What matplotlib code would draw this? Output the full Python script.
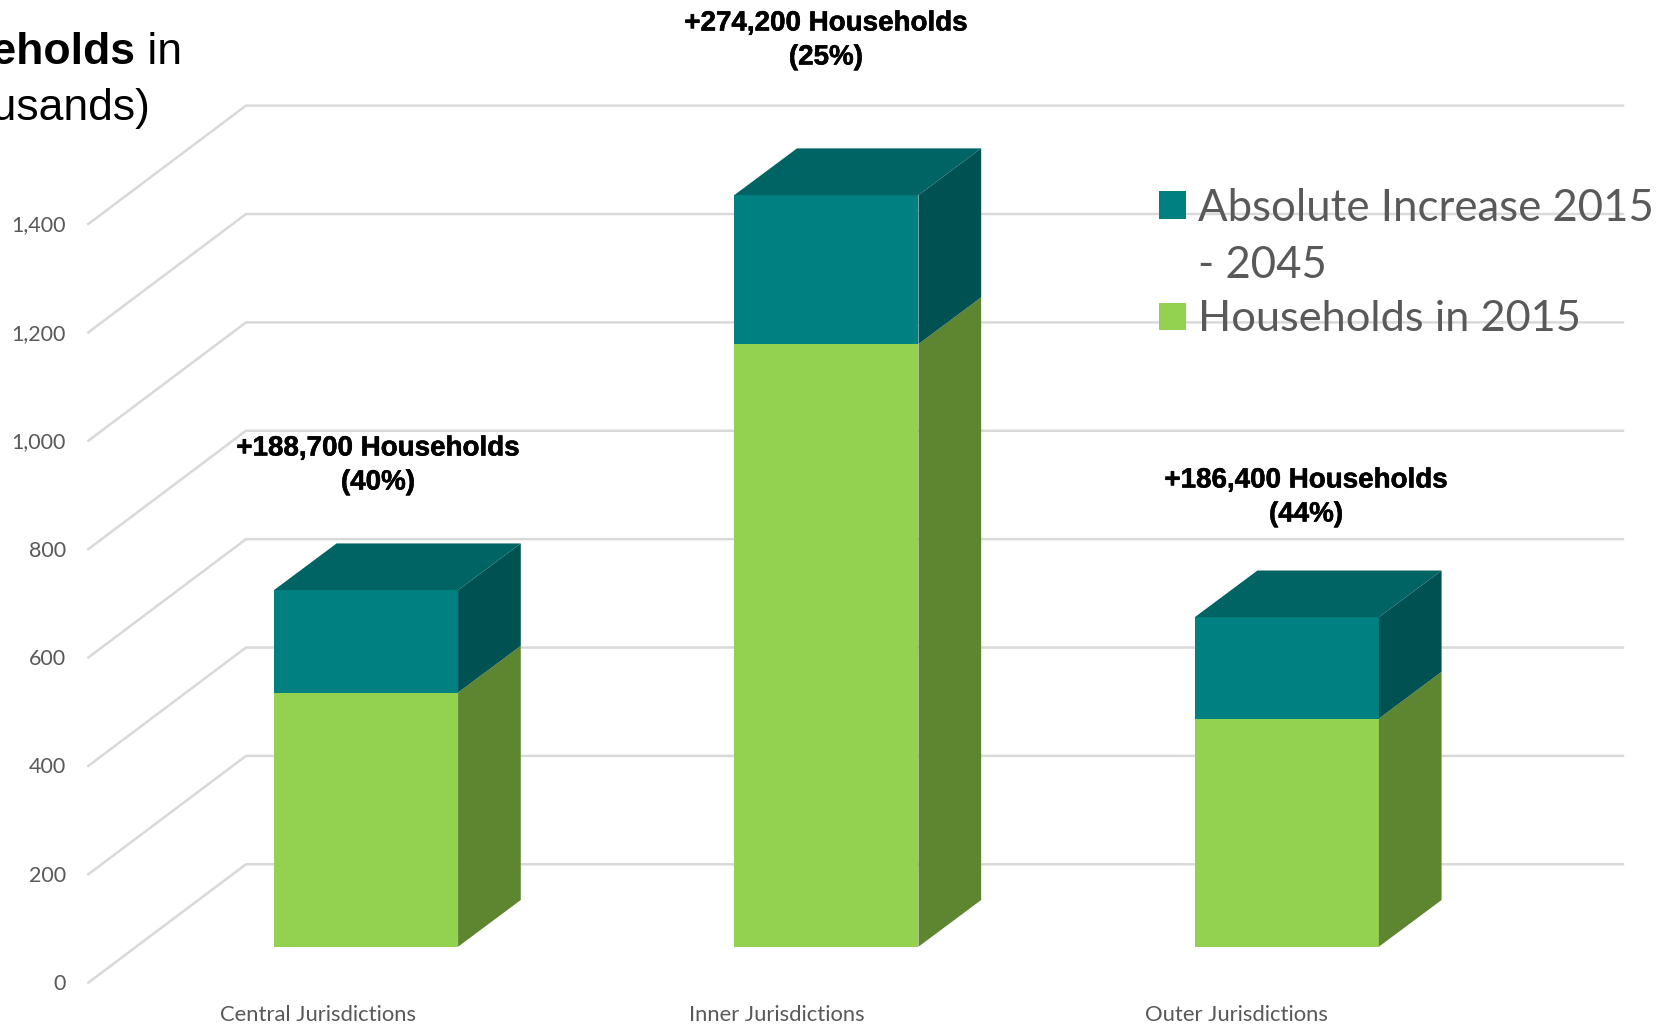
import matplotlib
matplotlib.use('Agg')
import matplotlib.pyplot as plt
import matplotlib.patheffects as pe

categories = ['Central Jurisdictions', 'Inner Jurisdictions', 'Outer Jurisdictions']
households_2015 = [469, 1112, 421]
increase = [189, 275, 187]
tick_values = [0, 200, 400, 600, 800, 1000, 1200, 1400]
notes = ['+188,700 Households\n(40%)', '+274,200 Households\n(25%)', '+186,400 Households\n(44%)']
legend_labels = ['Absolute Increase 2015\n- 2045', 'Households in 2015']

# Colours: front, top, side
teal = ['#008080', '#006464', '#005252']
green = ['#92D250', '#92D250', '#5E8530']
grid_color = '#D9D9D9'
text_grey = '#595959'

# Scale of the picture, pixels per data unit
px_x = 460.4
px_y = 0.5419
x0_px = 366.0
y0_px = 946.7


def px(x, y):
    # pixel of the picture -> data coordinates
    return (x - x0_px) / px_x, (y0_px - y) / px_y


fig = plt.figure(figsize=(16.71, 10.24), dpi=100)
ax = fig.add_axes([0, 0, 1, 1])
ax.set_xlim(px(0, 0)[0], px(1671, 0)[0])
ax.set_ylim(px(0, 1024)[1], px(0, 0)[1])
ax.axis('off')

bar_w = 0.4
bar_dx = 62.7 / px_x
bar_dy = 46.7 / px_y
wall_dx = 157.7 / px_x
wall_dy = 118.4 / px_y
floor_x = px(88.3, 0)[0]
floor_y = -66.4
right_x = px(1623, 0)[0]

# Gridlines: diagonal on the left wall, then flat on the back wall
for v in tick_values:
    ax.plot([floor_x, floor_x + wall_dx, right_x],
            [v + floor_y, v + floor_y + wall_dy, v + floor_y + wall_dy],
            color=grid_color, lw=1.8, solid_joinstyle='miter', zorder=1)
    ax.text(px(66, 0)[0], v + floor_y - 2.5, f'{v:,}', ha='right', va='center',
            fontsize=15.5, color=text_grey, family='Lato', zorder=5)


def box(x, bottom, height, colors, top_face):
    left = x - bar_w / 2
    right = x + bar_w / 2
    ax.bar(x, height, bar_w, bottom=bottom, color=colors[0], zorder=3)
    ax.fill([right, right + bar_dx, right + bar_dx, right],
            [bottom, bottom + bar_dy, bottom + height + bar_dy, bottom + height],
            color=colors[2], lw=0, zorder=3)
    if top_face:
        ax.fill([left, left + bar_dx, right + bar_dx, right],
                [bottom + height, bottom + height + bar_dy, bottom + height + bar_dy, bottom + height],
                color=colors[1], lw=0, zorder=3)


for i in range(len(categories)):
    box(i, 0, households_2015[i], green, False)
    box(i, households_2015[i], increase[i], teal, True)

# Category labels sit left of the bars, like in the original
label_px = [318.5, 777, 1236]
for name, x in zip(categories, label_px):
    ax.text(*px(x, 1015), name, ha='center', va='center', fontsize=15.8,
            color=text_grey, family='Lato')

# Notes above the bars
note_px = [(378, 465.5), (826, 40.5), (1306, 497.5)]
for note, (x, y) in zip(notes, note_px):
    ax.text(*px(x, y), note, ha='center', va='center', fontsize=20, fontweight='bold',
            color='black', family='Liberation Sans', linespacing=1.4, zorder=6,
            path_effects=[pe.withStroke(linewidth=0.4, foreground='black')])

# Legend drawn by hand so the text runs over the gridlines
sq = 27
for (color, y) in [(teal[0], 205), (green[0], 316)]:
    x1, y1 = px(1159, y + sq / 2)
    ax.bar(x1, sq / px_y, sq / px_x, bottom=y1, align='edge', color=color, zorder=4)
ax.text(*px(1198, 237), legend_labels[0], ha='left', va='center', fontsize=31.5,
        color=text_grey, family='Lato', linespacing=1.5, zorder=6)
ax.text(*px(1198, 319), legend_labels[1], ha='left', va='center', fontsize=31.2,
        color=text_grey, family='Lato', zorder=6)

# Title is cut off by the left edge of the picture
t = ax.text(*px(182, 52), ' in', ha='right', va='center', fontsize=32,
            color='black', family='Liberation Sans')
ax.annotate('Households', xy=(0, 0), xycoords=t, ha='right', va='bottom', fontsize=32,
            fontweight='bold', color='black', family='Liberation Sans')
ax.text(*px(150, 108), '(thousands)', ha='right', va='center', fontsize=32,
        color='black', family='Liberation Sans')

fig.savefig('out.png', dpi=100)
